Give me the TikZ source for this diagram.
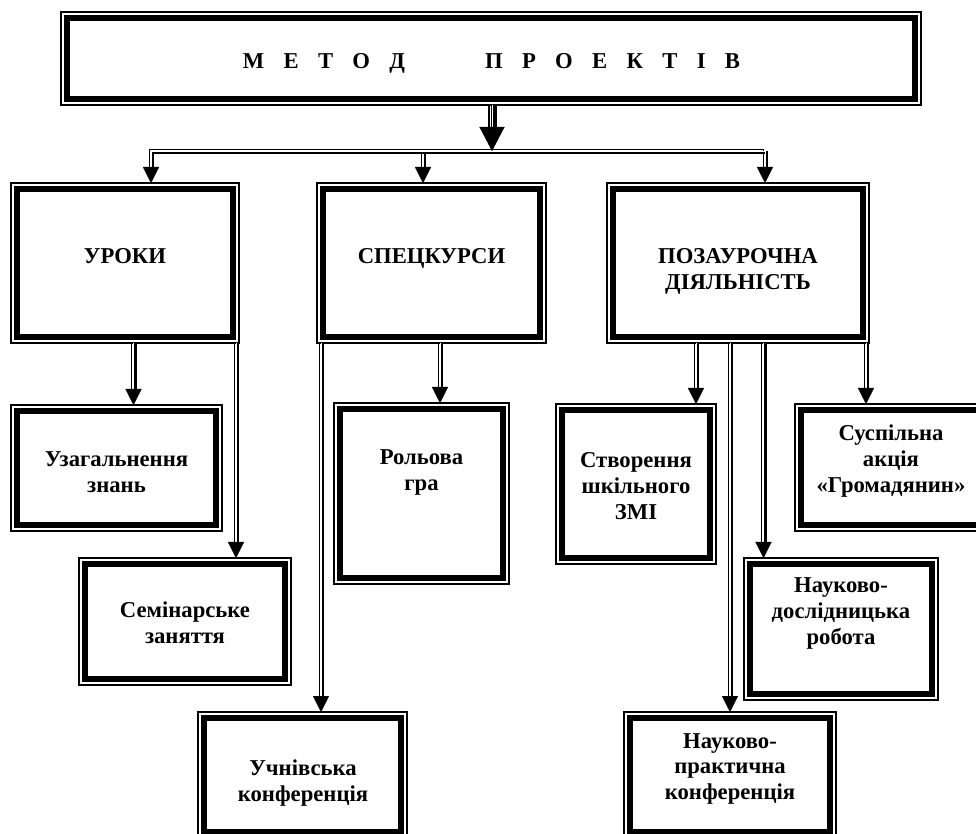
\documentclass[tikz,border=0pt]{standalone}
\usepackage{fontspec}
\setmainfont{Liberation Serif}
\usetikzlibrary{arrows.meta,fit,calc}
\newcommand\mlines[1]{\begin{tabular}[t]{@{}c@{}}#1\end{tabular}}
\newcommand\lsp{\hspace{14.5pt}}
\begin{document}
\begin{tikzpicture}[x=0.75pt,y=-0.75pt,
  box/.style={draw, line width=0.8pt, inner sep=0pt, outer sep=0pt,
    path picture={\draw[line width=3.9pt]
      ([shift={(6,6)}]path picture bounding box.north west) rectangle
      ([shift={(-6,-6)}]path picture bounding box.south east);}},
  txt/.style={font=\bfseries\fontsize{17}{19.5}\selectfont, inner sep=0pt, anchor=base},
  conn/.style={draw=white, line width=0.1pt,
    -{Triangle[width=12pt,length=12pt,color=black]},
    preaction={draw=black, arrows=-, line width=0.9pt, shorten >=11pt,
      transform canvas={shift={(-1.8,-1.8)}}},
    preaction={draw=black, arrows=-, line width=2.4pt, shorten >=11pt,
      transform canvas={shift={(1.6,1.6)}}}},
  connv/.style={draw=white, line width=0.1pt,
    -{Triangle[width=12pt,length=12pt,color=black]},
    preaction={draw=black, arrows=-, line width=0.9pt, shorten >=11pt,
      transform canvas={shift={(-1.8,0)}}},
    preaction={draw=black, arrows=-, line width=2.4pt, shorten >=11pt,
      transform canvas={shift={(1.6,0)}}}},
  trunk/.style={draw=white, line width=0.1pt,
    -{Triangle[width=18.75pt,length=18pt,color=black]},
    preaction={draw=black, arrows=-, line width=1.1pt, shorten >=16pt,
      transform canvas={shift={(-3.2,0)}}},
    preaction={draw=black, arrows=-, line width=3.8pt, shorten >=16pt,
      transform canvas={shift={(2,0)}}}}
]
\useasboundingbox[fill=white] (0,0) rectangle (976,834);

% boxes
\node[box, fit={(61,12) (921,105)}] (top) {};
\node[box, fit={(11,183) (239,343)}] (uroky) {};
\node[box, fit={(317,183) (546,343)}] (spec) {};
\node[box, fit={(607,183) (869,343)}] (poza) {};
\node[box, fit={(11,405) (222,531)}] (uzag) {};
\node[box, fit={(79,558) (291,685)}] (semin) {};
\node[box, fit={(198,712) (407,838)}] (uchn) {};
\node[box, fit={(334,403) (509,584)}] (rol) {};
\node[box, fit={(556,404) (716,564)}] (stvor) {};
\node[box, fit={(795,404) (987,531)}] (susp) {};
\node[box, fit={(744,558) (938,700)}] (nd) {};
\node[box, fit={(624,712) (836,838)}] (np) {};

% texts
\node[txt] (t-top) at (491.5,68.5)
  {М\lsp Е\lsp Т\lsp О\lsp Д\hspace{60pt}П\lsp Р\lsp О\lsp Е\lsp К\lsp Т\lsp І\lsp В};
\node[txt] (t-uroky) at (125,264) {УРОКИ};
\node[txt] (t-spec) at (431.5,263.5) {СПЕЦКУРСИ};
\node[txt] (t-poza) at (738,263.5) {\mlines{ПОЗАУРОЧНА\\ДІЯЛЬНІСТЬ}};
\node[txt] (t-uzag) at (116.5,467) {\mlines{Узагальнення\\знань}};
\node[txt] (t-semin) at (185,618) {\mlines{Семінарське\\заняття}};
\node[txt] (t-uchn) at (303,775) {\mlines{Учнівська\\конференція}};
\node[txt] (t-rol) at (421.5,465) {\mlines{Рольова\\гра}};
\node[txt] (t-stvor) at (636,468) {\mlines{Створення\\шкільного\\ЗМІ}};
\node[txt] (t-susp) at (891,441) {\mlines{Суспільна\\акція\\«Громадянин»}};
\node[txt] (t-nd) at (841,593) {\mlines{Науково-\\дослідницька\\робота}};
\node[txt] (t-np) at (730,748) {\mlines{Науково-\\практична\\конференція}};

% column coordinates
\coordinate (bus) at (492,151);
\coordinate (drop) at (423,154);
\coordinate (xa) at (151,0);
\coordinate (xc) at (765,0);
\coordinate (x1) at (133.5,0);
\coordinate (x2) at (236,0);
\coordinate (x3) at (321,0);
\coordinate (x4) at (440,0);
\coordinate (x5) at (696,0);
\coordinate (x6) at (730,0);
\coordinate (x7) at (763.5,0);
\coordinate (x8) at (866,0);

% connectors
\draw[trunk] (top.south -| bus) -- (bus);
\draw[conn] (bus) -| (xa |- uroky.north);
\draw[conn] (bus) -| (xc |- poza.north);
\draw[connv] (drop) -- (drop |- spec.north);
\draw[connv] (x1 |- uroky.south) -- (x1 |- uzag.north);
\draw[connv] (x2 |- uroky.south) -- (x2 |- semin.north);
\draw[connv] (x3 |- spec.south) -- (x3 |- uchn.north);
\draw[connv] (x4 |- spec.south) -- (x4 |- rol.north);
\draw[connv] (x5 |- poza.south) -- (x5 |- stvor.north);
\draw[connv] (x6 |- poza.south) -- (x6 |- np.north);
\draw[connv] (x7 |- poza.south) -- (x7 |- nd.north);
\draw[connv] (x8 |- poza.south) -- (x8 |- susp.north);
\end{tikzpicture}
\end{document}
